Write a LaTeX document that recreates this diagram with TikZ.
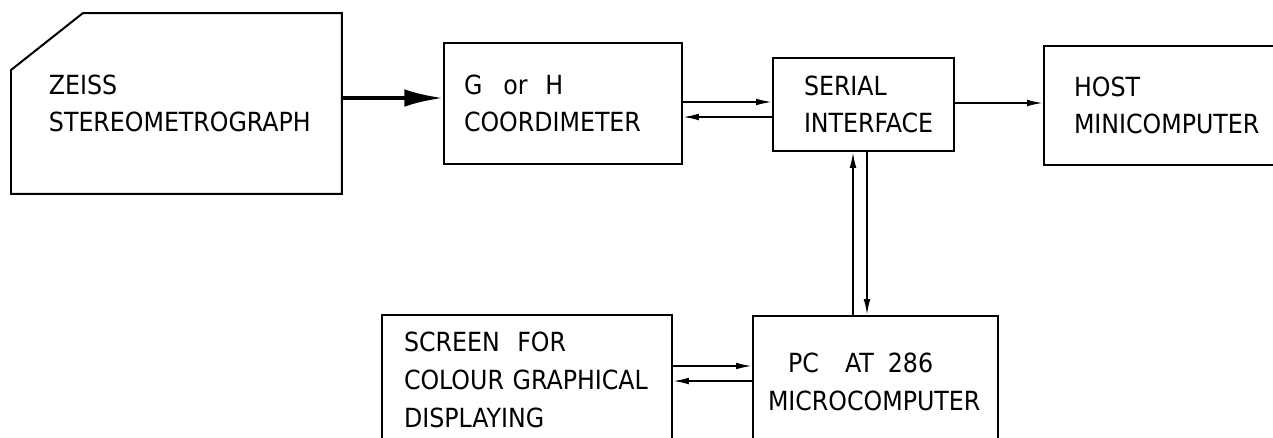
\documentclass[tikz,border=0pt]{standalone}
\usepackage{fontspec}
\setmainfont{DejaVu Sans Condensed}
\usetikzlibrary{arrows.meta}

\begin{document}
\begin{tikzpicture}[x=0.02cm,y=-0.02cm,
  box/.style={draw,line width=0.4mm,anchor=north west,align=left,
    font=\fontsize{15}{21.5}\selectfont},
  arr/.style={line width=0.35mm,-{Latex[length=9pt,width=3.8pt]}},
  bigarr/.style={line width=0.8mm,-{Latex[length=22pt,width=10pt]}}]
\useasboundingbox (0,0) rectangle (1273,437);
\clip (0,0) rectangle (1273,437);

\node[box,draw=none,minimum width=6.58cm,minimum height=3.58cm,inner xsep=0.74cm,text width=5.1cm] (zeiss) at (11,13) {ZEISS\\STEREOMETROGRAPH};
\draw[line width=0.4mm] ([shift={(0,57)}]zeiss.north west) -- ([shift={(72,0)}]zeiss.north west) -- (zeiss.north east) -- (zeiss.south east) -- (zeiss.south west) -- cycle;

\node[box,minimum width=4.76cm,minimum height=2.42cm,inner xsep=0.4cm,text width=3.96cm] (coord) at (443,42) {G\hspace{12pt}or\hspace{10pt}H\\COORDIMETER};
\node[box,minimum width=3.62cm,minimum height=1.86cm,inner xsep=0.62cm,text width=2.38cm] (serial) at (772,57) {SERIAL\\INTERFACE};
\node[box,minimum width=4.94cm,minimum height=2.38cm,inner xsep=0.6cm,text width=3.74cm] (host) at (1043,45) {HOST\\MINICOMPUTER};

\node[box,minimum width=5.8cm,minimum height=2.6cm,inner xsep=0.44cm,text width=4.92cm] (screen) at (381,314) {SCREEN\hspace{10pt}FOR\\COLOUR GRAPHICAL\\DISPLAYING};
\node[box,minimum width=4.9cm,minimum height=2.6cm,inner xsep=0.3cm,text width=4.3cm,text depth=0.74cm] (pc) at (752,315) {\hspace*{0.4cm}PC\hspace{15pt}AT\hspace{8pt}286\\MICROCOMPUTER};

\draw[bigarr] (zeiss.east |- 0,98) -- (coord.west |- 0,98);

\draw[arr] (coord.east |- 0,102) -- (serial.west |- 0,102);
\draw[arr] (serial.west |- 0,117) -- (coord.east |- 0,117);
\draw[arr] (serial.east |- 0,103) -- (host.west |- 0,103);

\draw[arr] (pc.north -| 853,0) -- (serial.south -| 853,0);
\draw[arr] (serial.south -| 867,0) -- (pc.north -| 867,0);

\draw[arr] (screen.east |- 0,366) -- (pc.west |- 0,366);
\draw[arr] (pc.west |- 0,381) -- (screen.east |- 0,381);
\end{tikzpicture}
\end{document}
